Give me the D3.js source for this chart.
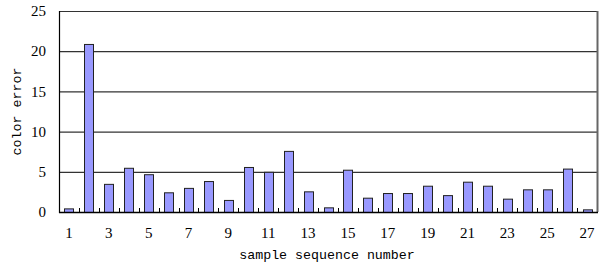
<!DOCTYPE html>
<html>
<head>
<meta charset="utf-8">
<script src="https://cdn.jsdelivr.net/npm/d3@7"></script>
<style>
  body { margin: 0; background: #fff; }
  text { font-family: "Liberation Mono", monospace; font-size: 13.3px; fill: #000; }
</style>
</head>
<body>
<svg width="611" height="265"></svg>
<script>
// sample numbers and their colour error
const samples = d3.range(1, 28);
const errors = [0.45, 20.9, 3.5, 5.5, 4.7, 2.45, 3.0, 3.85, 1.5, 5.6,
                5.0, 7.6, 2.57, 0.58, 5.26, 1.78, 2.36, 2.36, 3.27, 2.1,
                3.77, 3.27, 1.66, 2.82, 2.82, 5.4, 0.33];
const yTicks = [0, 5, 10, 15, 20, 25];
const xLabels = samples.filter(d => d % 2 === 1);

const svg = d3.select('svg');
const plotLeft = 59, plotRight = 597, plotTop = 11, plotBottom = 212;

const x = d3.scaleBand().domain(samples).range([plotLeft, plotRight]).paddingInner(0.55).paddingOuter(0.275);
const xEdge = d3.scaleLinear().domain([0, samples.length]).range([plotLeft, plotRight]);
const y = d3.scaleLinear().domain([0, 25]).range([plotBottom, plotTop]);

// gridlines
svg.append('g').selectAll('line').data(yTicks.filter(d => d > 0)).enter().append('line')
    .attr('x1', plotLeft).attr('x2', plotRight)
    .attr('y1', d => y(d) + 0.5).attr('y2', d => y(d) + 0.5)
    .attr('stroke', '#333').attr('stroke-width', 1.2);

// right border
svg.append('line')
    .attr('x1', plotRight + 0.5).attr('x2', plotRight + 0.5)
    .attr('y1', y(25)).attr('y2', y(0))
    .attr('stroke', '#666').attr('stroke-width', 2);

// bars
svg.append('g').selectAll('rect').data(errors).enter().append('rect')
    .attr('x', (d, i) => Math.round(x(samples[i])) + 0.5)
    .attr('width', Math.round(x.bandwidth()))
    .attr('y', d => y(d) + 0.5)
    .attr('height', d => y(0) - y(d))
    .attr('fill', '#9999ff')
    .attr('stroke', '#222').attr('stroke-width', 1);

// y axis line
svg.append('line')
    .attr('x1', plotLeft + 0.5).attr('x2', plotLeft + 0.5)
    .attr('y1', plotTop).attr('y2', plotBottom + 1)
    .attr('stroke', '#000').attr('stroke-width', 1.2);

// x axis line and inward ticks
svg.append('line')
    .attr('x1', plotLeft).attr('x2', plotRight + 1)
    .attr('y1', plotBottom + 0.5).attr('y2', plotBottom + 0.5)
    .attr('stroke', '#000').attr('stroke-width', 1.5);
svg.append('g').selectAll('line').data(d3.range(1, samples.length)).enter().append('line')
    .attr('x1', d => Math.round(xEdge(d)) + 0.5).attr('x2', d => Math.round(xEdge(d)) + 0.5)
    .attr('y1', plotBottom).attr('y2', plotBottom - 4)
    .attr('stroke', '#000');

// y tick labels
svg.append('g').selectAll('text').data(yTicks).enter().append('text')
    .attr('x', 46).attr('y', d => y(d))
    .attr('dy', '0.35em')
    .attr('text-anchor', 'end')
    .style('font-family', '"Liberation Serif", serif')
    .style('font-size', '15px')
    .text(d => d);

// x tick labels
svg.append('g').selectAll('text').data(xLabels).enter().append('text')
    .attr('x', d => x(d) + x.bandwidth() / 2)
    .attr('y', 238)
    .attr('text-anchor', 'middle')
    .style('font-family', '"Liberation Serif", serif')
    .style('font-size', '15px')
    .text(d => d);

// axis titles
svg.append('text')
    .attr('x', (plotLeft + plotRight) / 2 - 1).attr('y', 259)
    .attr('text-anchor', 'middle')
    .text('sample sequence number');

svg.append('text')
    .attr('transform', 'translate(21,' + ((plotTop + plotBottom) / 2) + ') rotate(-90)')
    .attr('text-anchor', 'middle')
    .text('color error');
</script>
</body>
</html>
